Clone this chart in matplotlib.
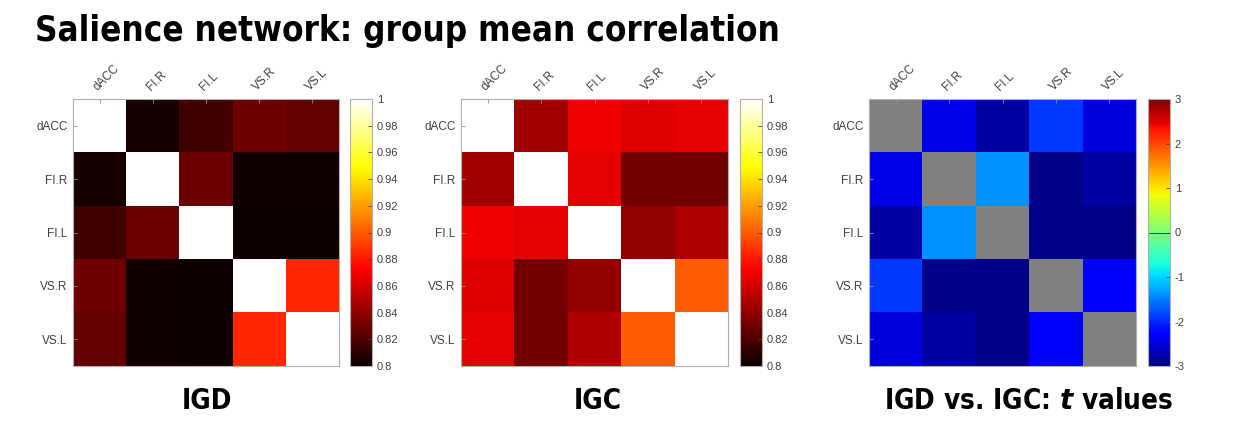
import numpy as np
import matplotlib
matplotlib.use("Agg")
import matplotlib.pyplot as plt

plt.rcParams['font.family'] = ['Liberation Sans', 'DejaVu Sans']
plt.rcParams['mathtext.fontset'] = 'custom'
plt.rcParams['mathtext.it'] = 'DejaVu Sans:bold:italic'
plt.rcParams['mathtext.rm'] = 'DejaVu Sans:bold'

regions = ['dACC', 'FI.R', 'FI.L', 'VS.R', 'VS.L']

# upper triangle values (row, col); matrices are symmetric
igd_upper = [[0.804, 0.817, 0.830, 0.827],
             [0.829, 0.803, 0.803],
             [0.802, 0.802],
             [0.885]]
igc_upper = [[0.846, 0.869, 0.864, 0.866],
             [0.866, 0.832, 0.832],
             [0.841, 0.850],
             [0.900]]
t_upper = [[-2.45, -2.80, -1.90, -2.50],
           [-1.40, -2.95, -2.80],
           [-2.95, -2.95],
           [-2.25]]


def build(upper, diag):
    n = len(regions)
    m = np.full((n, n), diag, dtype=float)
    for i, row in enumerate(upper):
        for k, v in enumerate(row):
            j = i + 1 + k
            m[i, j] = v
            m[j, i] = v
    return m


igd = build(igd_upper, 1.0)
igc = build(igc_upper, 1.0)
tval = build(t_upper, np.nan)

W, H = 1250, 432
fig = plt.figure(figsize=(W / 100, H / 100), dpi=100)


def px(x0, y0, x1, y1):
    return [x0 / W, 1 - y1 / H, (x1 - x0) / W, (y1 - y0) / H]


grey = '#404040'
spine = '#b0b0b0'


def panel(mat, rect, crect, cmap, vmin, vmax, cticks, clabels):
    ax = fig.add_axes(px(*rect))
    im = ax.imshow(mat, cmap=cmap, vmin=vmin, vmax=vmax, aspect='auto',
                   interpolation='nearest')
    ax.set_xticks(range(len(regions)))
    ax.set_yticks(range(len(regions)))
    ax.set_xticklabels(regions, rotation=45, ha='left', va='bottom',
                       rotation_mode='anchor', fontsize=8.5, color=grey)
    ax.set_yticklabels(regions, fontsize=8.5, color=grey)
    ax.xaxis.tick_top()
    ax.tick_params(direction='in', length=3, color='#909090', width=0.6, pad=4)
    for s in ax.spines.values():
        s.set_color(spine)
        s.set_linewidth(0.8)
    cax = fig.add_axes(px(*crect))
    cb = fig.colorbar(im, cax=cax)
    cb.set_ticks(cticks)
    cb.set_ticklabels(clabels)
    cb.ax.tick_params(direction='in', length=3, labelsize=8, colors=grey,
                      width=0.6)
    cb.outline.set_edgecolor(spine)
    cb.outline.set_linewidth(0.8)
    return ax, cb


hot_ticks = [0.8, 0.82, 0.84, 0.86, 0.88, 0.9, 0.92, 0.94, 0.96, 0.98, 1.0]
hot_labels = ['0.8', '0.82', '0.84', '0.86', '0.88', '0.9', '0.92', '0.94',
              '0.96', '0.98', '1']
panel(igd, (73, 99, 339, 366), (350, 99, 372, 366), 'hot', 0.8, 1.0,
      hot_ticks, hot_labels)
panel(igc, (461, 99, 728, 366), (740, 99, 762, 366), 'hot', 0.8, 1.0,
      hot_ticks, hot_labels)

jet = plt.get_cmap('jet').copy()
jet.set_bad('#808080')
t_ticks = [-3, -2, -1, 0, 1, 2, 3]
ax3, cb3 = panel(tval, (869, 99, 1136, 366), (1148, 99, 1170, 366), jet,
                 -3, 3, t_ticks, [str(t) for t in t_ticks])
cb3.ax.axhline(0, color='#303030', lw=0.6)

big = dict(fontweight='bold', family='DejaVu Sans', fontstretch='condensed')
fig.text(35 / W, 1 - 41 / H, 'Salience network: group mean correlation',
         fontsize=25, ha='left', va='baseline', **big)
fig.text(207 / W, 1 - 409 / H, 'IGD', fontsize=20, ha='center',
         va='baseline', **big)
fig.text(598 / W, 1 - 409 / H, 'IGC', fontsize=20, ha='center',
         va='baseline', **big)
fig.text(1029 / W, 1 - 409 / H, r'IGD vs. IGC: $t$ values', fontsize=20,
         ha='center', va='baseline', **big)

fig.savefig('out.png', dpi=100)
